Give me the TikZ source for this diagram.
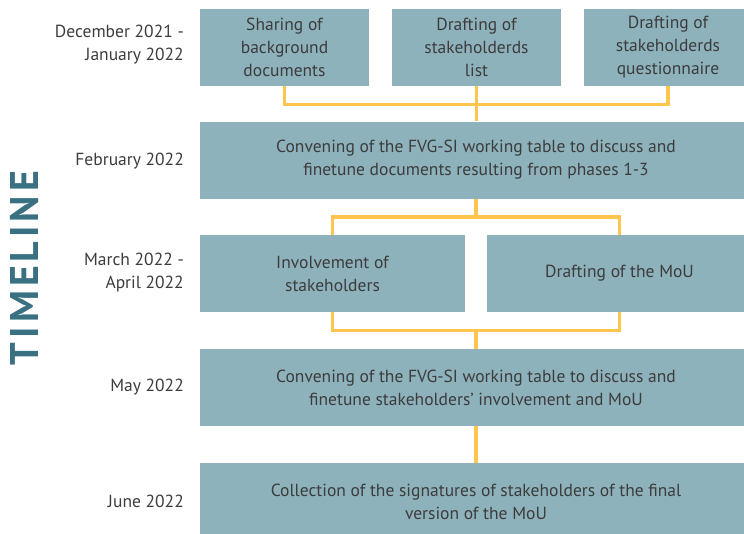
\documentclass[tikz,border=0pt]{standalone}
\usepackage{fontspec}
\setmainfont{PT Sans}
\usepackage{xcolor}
\usepackage{tikz}
\usetikzlibrary{positioning,calc}

\definecolor{boxblue}{HTML}{8EB2BB}
\definecolor{linkgold}{HTML}{FFC54F}
\definecolor{txtgrey}{HTML}{3C3C3C}
\definecolor{titleteal}{HTML}{3A7182}
\newfontfamily\titlefont[LetterSpace=10]{PT Sans}

\begin{document}
\begin{tikzpicture}[
    x=1pt, y=-1pt,
    font=\fontsize{17.5}{23}\selectfont, text=txtgrey,
    phase/.style={fill=boxblue, minimum height=77pt, align=center, inner sep=0pt},
    datelab/.style={anchor=east, align=right, inner sep=0pt},
    link/.style={draw=linkgold, line width=3.5pt}
  ]

  \useasboundingbox (0,0) rectangle (744,533);

  % titolo
  \node[rotate=90, text=titleteal, font=\titlefont\bfseries\fontsize{40}{40}\selectfont] (title) at (24,268) {TIMELINE};

  % date
  \node[datelab] (d1) at (184,45) {December 2021 -\\January 2022};
  \node[datelab] (d2) at (184,161) {February 2022};
  \node[datelab] (d3) at (184,273) {March 2022 -\\April 2022};
  \node[datelab] (d4) at (184,387) {May 2022};
  \node[datelab] (d5) at (184,501) {June 2022};

  % fasi
  \node[phase, minimum width=169pt] (p1) at (284.5,47.5) {Sharing of\\background\\documents};
  \node[phase, minimum width=169pt] (p2) at (476.5,47.5) {Drafting of\\stakeholderds\\list};
  \node[phase, minimum width=168pt] (p3) at (668,47.5) {Drafting of\\stakeholderds\\questionnaire};
  \node[phase, minimum width=552pt] (p4) at (476,160) {Convening of the FVG-SI working table to discuss and\\finetune documents resulting from phases 1-3};
  \node[phase, minimum width=265pt] (p5a) at (332.5,273.5) {Involvement of\\stakeholders};
  \node[phase, minimum width=265pt] (p5b) at (619.5,273.5) {Drafting of the MoU};
  \node[phase, minimum width=552pt] (p6) at (476,387.5) {Convening of the FVG-SI working table to discuss and\\finetune stakeholders’ involvement and MoU};
  \node[phase, minimum width=552pt] (p7) at (476,501.5) {Collection of the signatures of stakeholders of the final\\version of the MoU};

  % collegamenti
  \coordinate (j1) at (476.5,104.5);
  \coordinate (j2) at (476,217);
  \coordinate (j3) at (476,330.5);

  \draw[link] (p1.south) |- (j1) -| (p3.south);
  \draw[link] (p2.south) -- (p2.south |- p4.north);
  \draw[link] (p4.south) -- (j2);
  \draw[link] (p5a.north) |- (j2) -| (p5b.north);
  \draw[link] (p5a.south) |- (j3) -| (p5b.south);
  \draw[link] (j3) -- (p6.north);
  \draw[link] (p6.south) -- (p7.north);
\end{tikzpicture}
\end{document}
